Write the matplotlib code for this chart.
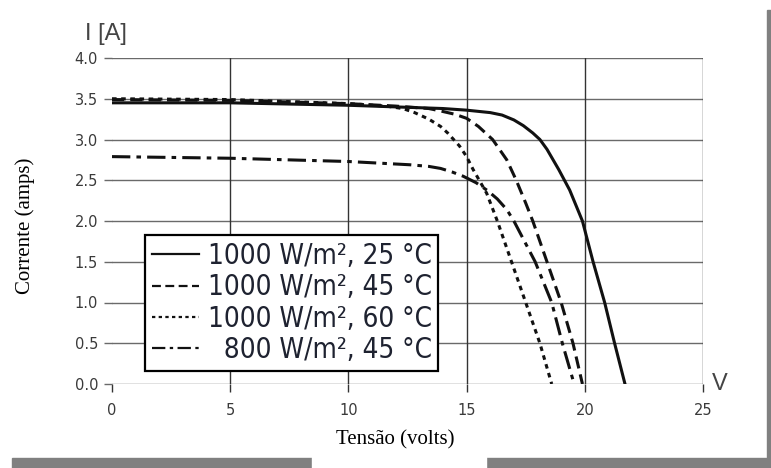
import matplotlib.pyplot as plt
from matplotlib.patches import Rectangle

# I-V curves
v_25 = [0, 5, 10, 12, 14, 15, 16, 16.5, 17.0, 17.4, 17.8, 18.1, 18.4, 18.9, 19.36, 19.9, 20.35, 20.84, 21.26, 21.7]
i_25 = [3.45, 3.45, 3.42, 3.40, 3.38, 3.36, 3.33, 3.30, 3.24, 3.17, 3.08, 3.0, 2.88, 2.63, 2.38, 2.0, 1.5, 1.0, 0.5, 0.0]

v_45 = [0, 5, 10, 12, 13.4, 13.9, 14.5, 15, 15.5, 16.1, 16.7, 17.1, 17.5, 17.8, 18.4, 19.0, 19.5, 19.9]
i_45 = [3.49, 3.48, 3.44, 3.41, 3.38, 3.35, 3.31, 3.26, 3.16, 3.0, 2.75, 2.5, 2.22, 2.0, 1.5, 1.0, 0.5, 0.0]

v_60 = [0, 5, 10, 11.6, 12.3, 12.8, 13.4, 13.9, 14.2, 14.7, 15.0, 15.26, 15.85, 16.3, 16.9, 17.5, 18.1, 18.6]
i_60 = [3.50, 3.49, 3.44, 3.41, 3.38, 3.33, 3.25, 3.16, 3.08, 2.92, 2.79, 2.64, 2.34, 2.0, 1.5, 1.0, 0.5, 0.0]

v_800 = [0, 5, 10, 12.6, 13.4, 13.9, 14.4, 14.85, 15.4, 15.9, 16.3, 16.7, 17.0, 17.9, 18.6, 19.05, 19.55]
i_800 = [2.79, 2.77, 2.73, 2.69, 2.67, 2.645, 2.60, 2.55, 2.47, 2.37, 2.27, 2.14, 2.0, 1.5, 1.0, 0.5, 0.0]

labels = ["1000 W/m², 25 °C", "1000 W/m², 45 °C", "1000 W/m², 60 °C", "  800 W/m², 45 °C"]

x_ticks = [0, 5, 10, 15, 20, 25]
y_ticks = [0.0, 0.5, 1.0, 1.5, 2.0, 2.5, 3.0, 3.5, 4.0]

fig = plt.figure(figsize=(7.71, 4.68), dpi=100)
ax = fig.add_axes([112 / 771, 84 / 468, 591 / 771, 326 / 468])

# grid
for y in y_ticks:
    ax.axhline(y, color="#6a6a6a", lw=1.0, zorder=1)
for x in x_ticks[1:]:
    ax.axvline(x, color="#333333", lw=1.0, zorder=1)

ax.plot(v_25, i_25, color="#111111", lw=2.2, ls="-", label=labels[0], zorder=3)
ax.plot(v_45, i_45, color="#111111", lw=2.2, ls=(0, (4, 2)), label=labels[1], zorder=3)
ax.plot(v_60, i_60, color="#111111", lw=2.2, ls=(0, (1.5, 1.5)), label=labels[2], zorder=3)
ax.plot(v_800, i_800, color="#111111", lw=2.2, ls=(0, (6, 2, 1.5, 2)), label=labels[3], zorder=3)

ax.set_xlim(0, 25)
ax.set_ylim(0, 4.0)
ax.set_xticks(x_ticks)
ax.set_yticks(y_ticks)
ax.set_xticklabels([str(x) for x in x_ticks])
ax.set_yticklabels([f"{y:.1f}" for y in y_ticks])
for s in ax.spines.values():
    s.set_visible(False)
ax.tick_params(axis="x", length=6, width=1, color="#333333", pad=8,
               labelsize=10.5, labelcolor="#3a3a3a")
ax.tick_params(axis="y", length=6, width=1, color="#6a6a6a", pad=4,
               labelsize=10.5, labelcolor="#3a3a3a")

leg = ax.legend(loc="lower left", bbox_to_anchor=(33 / 591, 13 / 326),
                prop={"family": "DejaVu Sans", "stretch": "condensed", "size": 20},
                handlelength=1.7, handletextpad=0.3, borderpad=0.25,
                labelspacing=0.12, borderaxespad=0, fancybox=False,
                framealpha=1, edgecolor="black", alignment="right")
leg.get_frame().set_linewidth(1.6)
for t in leg.get_texts():
    t.set_color("#1e2230")
for h in leg.get_lines():
    h.set_linewidth(1.6)

fig.text(85 / 771, 1 - 34 / 468, "I [A]", fontsize=17, color="#444444", va="center",
         family=["Liberation Sans", "DejaVu Sans"])
fig.text(720 / 771, 1 - 384 / 468, "V", fontsize=17, color="#444444", va="center",
         ha="center", family=["Liberation Sans", "DejaVu Sans"])

fig.text(25 / 771, 1 - 226 / 468, "Corrente (amps)", rotation=90, fontsize=15,
         family="Liberation Serif", ha="center", va="center")

# drop-shadow style frame
fig.patches.append(Rectangle((767 / 771, 0), 4 / 771, 458 / 468,
                             transform=fig.transFigure, color="#808080", zorder=0))
fig.patches.append(Rectangle((12 / 771, 0), 759 / 771, 10 / 468,
                             transform=fig.transFigure, color="#808080", zorder=0))
fig.patches.append(Rectangle((312 / 771, 0), 174 / 771, 30 / 468,
                             transform=fig.transFigure, color="white", zorder=1))
fig.text(395 / 771, 1 - 440 / 468, "Tensão (volts)", fontsize=15,
         family="Liberation Serif", ha="center", va="center", zorder=2)

fig.savefig("out.png", dpi=100)
